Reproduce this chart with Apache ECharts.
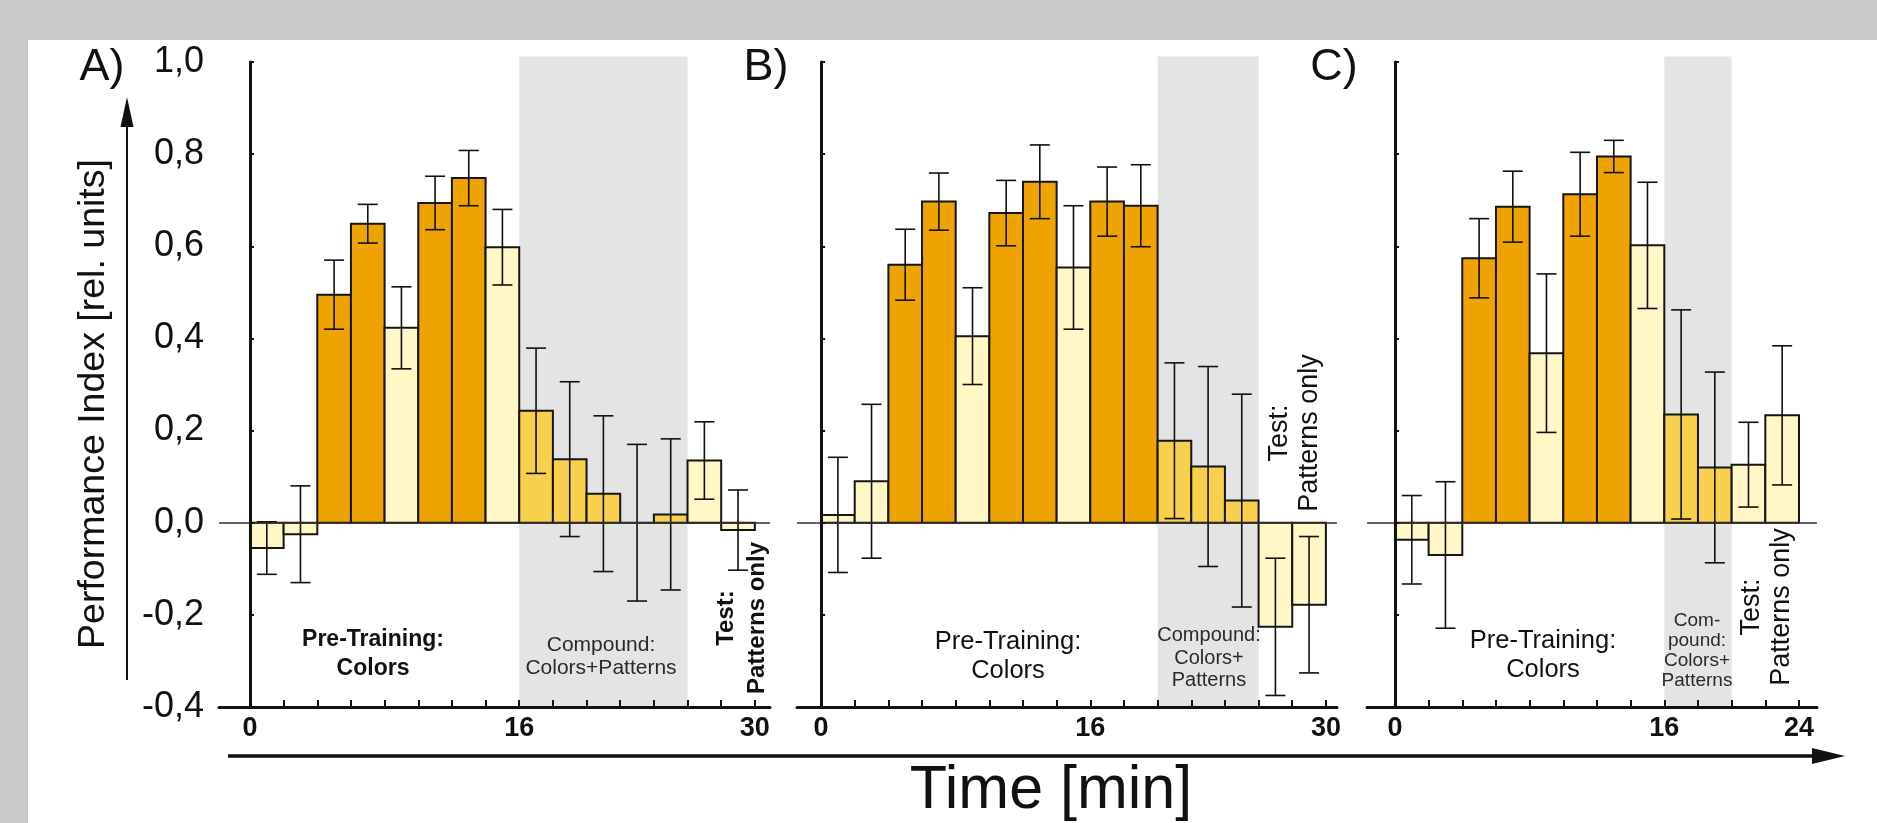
<!DOCTYPE html>
<html>
<head>
<meta charset="utf-8">
<script src="https://cdn.jsdelivr.net/npm/echarts@6/dist/echarts.min.js"></script>
<style>
html,body{margin:0;padding:0;background:#c8c9cb;}
#chart{width:1877px;height:823px;}
</style>
</head>
<body>
<div id="chart"></div>
<script>
// ---------- data ----------
const startA = [0, 2, 4, 6, 8, 10, 12, 14, 16, 18, 20, 22, 24, 26, 28];
const valA   = [-0.055, -0.025, 0.495, 0.649, 0.423, 0.694, 0.748, 0.598, 0.243, 0.138, 0.063, 0.0, 0.018, 0.135, -0.016];
const errA   = [0.057, 0.105, 0.075, 0.042, 0.089, 0.058, 0.060, 0.082, 0.136, 0.168, 0.169, 0.170, 0.164, 0.084, 0.087];
const typeA  = ['p','p','c','c','p','c','c','p','m','m','m','m','m','p','p'];

const startB = [0, 2, 4, 6, 8, 10, 12, 14, 16, 18, 20, 22, 24, 26, 28];
const valB   = [0.017, 0.090, 0.560, 0.697, 0.405, 0.672, 0.740, 0.554, 0.697, 0.688, 0.178, 0.122, 0.048, -0.226, -0.178];
const errB   = [0.125, 0.167, 0.077, 0.062, 0.105, 0.071, 0.080, 0.134, 0.075, 0.089, 0.169, 0.217, 0.231, 0.149, 0.148];
const typeB  = ['p','p','c','c','p','c','c','p','c','c','m','m','m','p','p'];

const startC = [0, 2, 4, 6, 8, 10, 12, 14, 16, 18, 20, 22];
const valC   = [-0.037, -0.070, 0.574, 0.686, 0.368, 0.713, 0.795, 0.602, 0.235, 0.120, 0.126, 0.233];
const errC   = [0.096, 0.159, 0.086, 0.077, 0.172, 0.091, 0.035, 0.137, 0.227, 0.207, 0.092, 0.151];
const typeC  = ['p','p','c','c','p','c','c','p','m','m','p','p'];

const shadeA = [16, 26];
const shadeB = [20, 26];
const shadeC = [16, 20];

const tickA  = [0, 2, 4, 6, 8, 10, 12, 14, 16, 18, 20, 22, 24, 26, 28, 30];
const tickB  = [0, 2, 4, 6, 8, 10, 12, 14, 16, 18, 20, 22, 24, 26, 28, 30];
const tickC  = [0, 2, 4, 6, 8, 10, 12, 14, 16, 18, 20, 22, 24];
const labelA = [0, 16, 30];
const labelB = [0, 16, 30];
const labelC = [0, 16, 24];

const BAR_WIDTH_MIN = 2;

// ---------- styles / layout ----------
const FONT = 'Liberation Sans, Arial, Helvetica, sans-serif';
const INK = '#111';
const COLORS = { c: '#EEA300', p: '#FFF8C6', m: '#F8D04E' };
const SHADE = '#E4E4E4';

const layout = [
  { left: 219, width: 551, xmin: -1.84, xmax: 30.9, showY: true },
  { left: 797, width: 540, xmin: -1.43, xmax: 30.66, showY: false },
  { left: 1367, width: 450, xmin: -1.66, xmax: 25.07, showY: false }
];
const panels = [
  { start: startA, val: valA, err: errA, type: typeA, shade: shadeA, ticks: tickA, labels: labelA },
  { start: startB, val: valB, err: errB, type: typeB, shade: shadeB, ticks: tickB, labels: labelB },
  { start: startC, val: valC, err: errC, type: typeC, shade: shadeC, ticks: tickC, labels: labelC }
];

const grids = [], xAxes = [], yAxes = [], series = [];
panels.forEach((p, i) => {
  const L = layout[i];
  grids.push({ left: L.left, width: L.width, top: 62, height: 645, containLabel: false });
  xAxes.push({
    type: 'value', gridIndex: i, min: L.xmin, max: L.xmax, z: 5,
    splitLine: { show: false },
    axisLine: { onZero: false, lineStyle: { color: INK, width: 3 } },
    axisTick: { show: true, inside: true, length: 7, lineStyle: { color: INK, width: 2 }, customValues: p.ticks },
    axisLabel: { show: true, customValues: p.labels, color: INK, fontFamily: FONT, fontWeight: 'bold', fontSize: 27, margin: 8 }
  });
  yAxes.push({
    type: 'value', gridIndex: i, min: -0.4, max: 1.0, interval: 0.2, z: 5,
    splitLine: { show: false },
    axisLine: { show: true, lineStyle: { color: INK, width: 3 } },
    axisTick: { show: true, inside: true, length: 4, lineStyle: { color: INK, width: 2 } },
    axisLabel: {
      show: L.showY, color: INK, fontFamily: FONT, fontSize: 36, margin: 15,
      formatter: v => (Math.round(v * 10) / 10).toFixed(1).replace('.', ',')
    }
  });
  // shaded compound phase
  series.push({
    type: 'custom', xAxisIndex: i, yAxisIndex: i, z: 1, silent: true,
    data: [[p.shade[0], p.shade[1]]],
    renderItem: (params, api) => {
      const a = api.coord([api.value(0), 1.012]);
      const b = api.coord([api.value(1), -0.4]);
      return { type: 'rect', shape: { x: a[0], y: a[1], width: b[0] - a[0], height: b[1] - a[1] }, style: { fill: SHADE } };
    }
  });
  // bars
  const barData = p.val.map((v, k) => [p.start[k], p.start[k] + BAR_WIDTH_MIN, v, p.type[k]]);
  series.push({
    type: 'custom', xAxisIndex: i, yAxisIndex: i, z: 3, silent: true,
    data: barData,
    renderItem: (params, api) => {
      const x0 = api.value(0), x1 = api.value(1), v = api.value(2);
      const t = barData[params.dataIndex][3];
      const a = api.coord([x0, 0]);
      const b = api.coord([x1, v]);
      return {
        type: 'rect',
        shape: { x: a[0], y: Math.min(a[1], b[1]), width: b[0] - a[0], height: Math.abs(b[1] - a[1]) },
        style: { fill: COLORS[t], stroke: '#151515', lineWidth: 2 }
      };
    },
    markLine: {
      silent: true, symbol: 'none', label: { show: false },
      lineStyle: { color: '#333', width: 1.5, type: 'solid' },
      data: [{ yAxis: 0 }]
    }
  });
  // error bars
  const errData = p.val.map((v, k) => [p.start[k] + BAR_WIDTH_MIN / 2, v, p.err[k]]);
  series.push({
    type: 'custom', xAxisIndex: i, yAxisIndex: i, z: 4, silent: true,
    data: errData,
    renderItem: (params, api) => {
      const x = api.value(0), v = api.value(1), e = api.value(2);
      const top = api.coord([x, v + e]);
      const bot = api.coord([x, v - e]);
      const st = { stroke: INK, lineWidth: 1.6 };
      const cw = 10;
      return {
        type: 'group',
        children: [
          { type: 'line', shape: { x1: top[0], y1: top[1], x2: bot[0], y2: bot[1] }, style: st },
          { type: 'line', shape: { x1: top[0] - cw, y1: top[1], x2: top[0] + cw, y2: top[1] }, style: st },
          { type: 'line', shape: { x1: bot[0] - cw, y1: bot[1], x2: bot[0] + cw, y2: bot[1] }, style: st }
        ]
      };
    }
  });
});

function txt(x, y, text, size, opts) {
  opts = opts || {};
  return {
    type: 'text', x: x, y: y, rotation: opts.rot || 0, z: 10, silent: true,
    style: {
      text: text, fill: opts.color || INK, fontFamily: FONT, fontSize: size,
      fontWeight: opts.weight || 'normal', align: 'center', verticalAlign: 'middle',
      lineHeight: opts.lh || Math.round(size * 1.15)
    }
  };
}

const graphics = [
  { type: 'rect', left: 28, top: 40, z: -10, silent: true, shape: { width: 1877 - 28, height: 823 - 40 }, style: { fill: '#fff' } },
  // panel letters
  txt(102, 68, 'A)', 45),
  txt(766, 68, 'B)', 45),
  txt(1334, 68, 'C)', 45),
  // y axis title + arrow
  txt(94, 404, 'Performance Index [rel. units]', 37.5, { rot: Math.PI / 2 }),
  { type: 'line', z: 10, silent: true, shape: { x1: 127, y1: 680, x2: 127, y2: 122 }, style: { stroke: INK, lineWidth: 2 } },
  { type: 'polygon', z: 10, silent: true, shape: { points: [[127, 97], [120.5, 127], [133.5, 127]] }, style: { fill: INK } },
  // x arrow + title
  { type: 'line', z: 10, silent: true, shape: { x1: 228, y1: 756, x2: 1818, y2: 756 }, style: { stroke: INK, lineWidth: 3.5 } },
  { type: 'polygon', z: 10, silent: true, shape: { points: [[1845, 756], [1812, 748], [1812, 764]] }, style: { fill: INK } },
  txt(1051, 791, 'Time [min]', 61),
  // phase labels panel A
  txt(373, 654, 'Pre-Training:\nColors', 23, { weight: 'bold', lh: 29 }),
  txt(601, 657, 'Compound:\nColors+Patterns', 21, { color: '#2a2a2a', lh: 23 }),
  txt(742, 618, 'Test:\nPatterns only', 24, { weight: 'bold', lh: 31, rot: Math.PI / 2 }),
  // panel B
  txt(1008, 656, 'Pre-Training:\nColors', 25.5, { lh: 29 }),
  txt(1209, 658, 'Compound:\nColors+\nPatterns', 20, { color: '#2a2a2a', lh: 22.5 }),
  txt(1295, 433, 'Test:\nPatterns only', 27, { lh: 30, rot: Math.PI / 2 }),
  // panel C
  txt(1543, 655, 'Pre-Training:\nColors', 25.5, { lh: 29 }),
  txt(1697, 651, 'Com-\npound:\nColors+\nPatterns', 19, { color: '#2a2a2a', lh: 20 }),
  txt(1767, 607, 'Test:\nPatterns only', 27, { lh: 30, rot: Math.PI / 2 })
];

const chart = echarts.init(document.getElementById('chart'), null, { renderer: 'canvas' });
chart.setOption({
  backgroundColor: '#c8c9cb',
  animation: false,
  grid: grids,
  xAxis: xAxes,
  yAxis: yAxes,
  series: series,
  graphic: graphics
});
</script>
</body>
</html>
